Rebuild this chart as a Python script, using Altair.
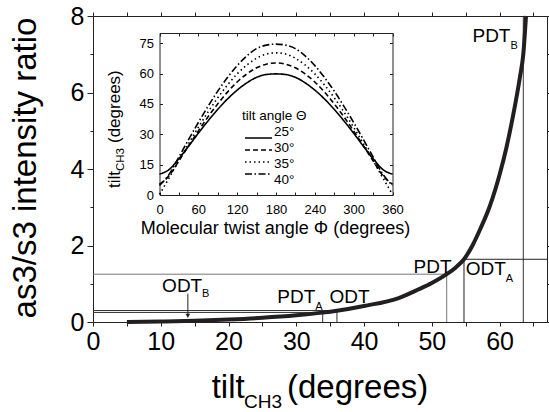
import altair as alt
import pandas as pd

FONT = "Liberation Sans"
INK = "#231f20"

# ---------------- main curve: as3/s3 ratio vs tilt_CH3 ----------------
tilt_ch3 = [5, 10, 15, 20, 25, 30, 33.9, 36, 40, 45, 48, 50, 52.2, 53.5, 54.75,
            56, 57.2, 58.5, 60, 61, 62, 63, 63.5, 63.9]
as_s_ratio = [0.0, 0.01, 0.03, 0.065, 0.11, 0.175, 0.245, 0.295, 0.42, 0.62, 0.85,
              1.02, 1.25, 1.42, 1.64, 2.0, 2.45, 3.0, 3.85, 4.55, 5.4, 6.4, 7.0, 8.0]

# ---------------- reference drop lines ----------------
seg_group = ["PDT_B", "ODT_A", "ODT_A", "PDT", "PDT", "PDT_A", "PDT_A", "ODT", "ODT"]
seg_x1 = [63.5, 54.75, 54.75, 52.2, 0, 33.9, 0, 36.0, 0]
seg_x2 = [63.5, 54.75, 67.0, 52.2, 52.2, 33.9, 33.9, 36.0, 36.0]
seg_y1 = [0, 0, 1.64, 0, 1.25, 0, 0.25, 0, 0.30]
seg_y2 = [8, 1.64, 1.64, 1.25, 1.25, 0.25, 0.25, 0.30, 0.30]

# ODT_B arrow
arrow_x = [14.0]
arrow_top = [0.74]
arrow_head = [0.16]

# annotation labels
lab_text = ["PDT", "PDT", "ODT", "PDT", "ODT", "ODT"]
lab_x = [56.0, 47.3, 55.0, 27.2, 34.9, 10.2]
lab_y = [7.31, 1.27, 1.22, 0.49, 0.49, 0.78]
sub_text = ["B", "A", "A", "B"]
sub_x = [61.6, 60.9, 32.8, 16.1]
sub_y = [7.15, 1.04, 0.31, 0.65]

# ---------------- inset: tilt_CH3 vs twist angle ----------------
phi = [0, 15, 30, 45, 60, 75, 90, 105, 120, 135, 150, 165, 180,
       195, 210, 225, 240, 255, 270, 285, 300, 315, 330, 345, 360]
tilt_25 = [10.3, 12.6, 18.0, 24.1, 30.5, 36.6, 42.3, 47.4, 51.8, 55.4, 58.1, 59.5, 59.8,
           59.5, 58.1, 55.4, 51.8, 47.4, 42.3, 36.6, 30.5, 24.1, 18.0, 12.6, 10.3]
tilt_30 = [5.3, 9.6, 16.9, 24.3, 31.6, 38.6, 45.0, 50.8, 55.8, 59.8, 62.8, 64.6, 65.2,
           64.6, 62.8, 59.8, 55.8, 50.8, 45.0, 38.6, 31.6, 24.3, 16.9, 9.6, 5.3]
tilt_35 = [0.3, 8.5, 17.1, 25.4, 33.4, 41.0, 48.0, 54.3, 59.8, 64.2, 67.5, 69.6, 70.2,
           69.6, 67.5, 64.2, 59.8, 54.3, 48.0, 41.0, 33.4, 25.4, 17.1, 8.5, 0.3]
tilt_40 = [4.7, 10.3, 18.8, 27.4, 35.8, 43.8, 51.3, 58.0, 63.9, 68.7, 72.3, 74.0, 74.5,
           74.0, 72.3, 68.7, 63.9, 58.0, 51.3, 43.8, 35.8, 27.4, 18.8, 10.3, 4.7]
theta_labels = ["25°", "30°", "35°", "40°"]
dash_styles = [[1, 0], [5, 3], [1.5, 3], [7, 2.5, 1.5, 2.5]]

# ---------------- frames ----------------
W, H = 454, 306
xs = alt.Scale(domain=[0, 67], nice=False, zero=False)
ys = alt.Scale(domain=[0, 8], nice=False, zero=False)
ixs = alt.Scale(domain=[0, 360], range=[66.5, 299.5], nice=False, zero=False)
iys = alt.Scale(domain=[0, 80], range=[179, 17], nice=False, zero=False)
dash_scale = alt.Scale(domain=theta_labels, range=dash_styles)
legend_rows = alt.Scale(domain=theta_labels, range=[116, 164], padding=0)

curve_df = pd.DataFrame({"t": tilt_ch3, "r": as_s_ratio})
seg_df = pd.DataFrame({"g": seg_group, "x1": seg_x1, "x2": seg_x2, "y1": seg_y1, "y2": seg_y2})
arrow_df = pd.DataFrame({"x": arrow_x, "y1": arrow_top, "yh": arrow_head})
lab_df = pd.DataFrame({"s": lab_text, "x": lab_x, "y": lab_y})
sub_df = pd.DataFrame({"s": sub_text, "x": sub_x, "y": sub_y})
legend_df = pd.DataFrame({"theta": theta_labels})

rows = []
for lab, ser in zip(theta_labels, [tilt_25, tilt_30, tilt_35, tilt_40]):
    for p, v in zip(phi, ser):
        rows.append({"phi": p, "tilt": v, "theta": lab})
inset_df = pd.DataFrame(rows)

common_axis = dict(grid=False, labelFlush=False, labelOverlap=False, title=None,
                   domainColor="#222", tickColor="#222", labelColor="black", labelFont=FONT)

# main bottom/left axes with the curve
curve = alt.Chart(curve_df).mark_line(
    color=INK, strokeWidth=4, strokeCap="butt", interpolate="monotone"
).encode(
    x=alt.X("t:Q", scale=xs, axis=alt.Axis(
        orient="bottom", values=list(range(0, 66, 5)),
        labelExpr="datum.value % 10 === 0 ? datum.label : ''",
        tickSize=4, labelFontSize=25, labelPadding=3, **common_axis)),
    y=alt.Y("r:Q", scale=ys, axis=alt.Axis(
        orient="left", values=list(range(0, 9)),
        labelExpr="datum.value % 2 === 0 ? datum.label : ''",
        tickSize={"condition": {"test": "datum.value % 2 === 0", "value": 6}, "value": 3},
        labelFontSize=25, labelPadding=3, **common_axis)),
)

# reference lines with mirrored top/right axes
segs = alt.Chart(seg_df).mark_rule(strokeWidth=1).encode(
    x=alt.X("x1:Q", scale=xs, axis=alt.Axis(
        orient="top", values=list(range(0, 66, 5)), labels=False, tickSize=4, **common_axis)),
    x2="x2:Q",
    y=alt.Y("y1:Q", scale=ys, axis=alt.Axis(
        orient="right", values=list(range(0, 9)), labels=False, tickSize=3, **common_axis)),
    y2="y2:Q",
    color=alt.Color("g:N", legend=None, scale=alt.Scale(
        domain=["PDT_B", "ODT_A", "PDT", "PDT_A", "ODT"],
        range=["#333333", "#222222", "#777777", "#333333", "#333333"])),
)

arrow_line = alt.Chart(arrow_df).mark_rule(color="#222", strokeWidth=1).encode(
    x=alt.X("x:Q", scale=xs, axis=None),
    y=alt.Y("y1:Q", scale=ys, axis=None),
    y2="yh:Q",
)
arrow_tip = alt.Chart(arrow_df).mark_point(
    shape="triangle-down", filled=True, color="#222", size=22, opacity=1
).encode(
    x=alt.X("x:Q", scale=xs, axis=None),
    y=alt.Y("yh:Q", scale=ys, axis=None),
)

labels = alt.Chart(lab_df).mark_text(
    font=FONT, fontSize=19, align="left", baseline="alphabetic", color="black"
).encode(
    x=alt.X("x:Q", scale=xs, axis=None),
    y=alt.Y("y:Q", scale=ys, axis=None),
    text="s:N",
)
subs = alt.Chart(sub_df).mark_text(
    font=FONT, fontSize=11, align="left", baseline="alphabetic", color="black"
).encode(
    x=alt.X("x:Q", scale=xs, axis=None),
    y=alt.Y("y:Q", scale=ys, axis=None),
    text="s:N",
)

# inset curves with bottom/left axes
inset_axis = dict(common_axis)
inset_curves = alt.Chart(inset_df).mark_line(
    color="black", strokeWidth=1.6, interpolate="monotone"
).encode(
    x=alt.X("phi:Q", scale=ixs, axis=alt.Axis(
        orient="bottom", offset=-127, values=list(range(0, 361, 60)), tickSize=0,
        labelPadding=8, labelFontSize=13, **inset_axis)),
    y=alt.Y("tilt:Q", scale=iys, axis=alt.Axis(
        orient="left", offset=-66.5, values=list(range(0, 76, 15)), tickSize=0,
        labelPadding=6, labelFontSize=13, **inset_axis)),
    strokeDash=alt.StrokeDash("theta:N", scale=dash_scale, legend=None),
)

# inset top & right frame with inward ticks
inset_frame_tr = alt.Chart(inset_df).mark_line(strokeOpacity=0).encode(
    x=alt.X("phi:Q", scale=ixs, axis=alt.Axis(
        orient="bottom", offset=-289, values=list(range(0, 361, 30)), labels=False,
        tickSize=3, **inset_axis)),
    y=alt.Y("tilt:Q", scale=iys, axis=alt.Axis(
        orient="left", offset=-299.5, values=list(range(0, 76, 15)), labels=False,
        tickSize=3, **inset_axis)),
)
# inward ticks on inset bottom & left
inset_ticks_bl = alt.Chart(inset_df).mark_line(strokeOpacity=0).encode(
    x=alt.X("phi:Q", scale=ixs, axis=alt.Axis(
        orient="top", offset=-179, values=list(range(0, 361, 30)), labels=False,
        tickSize=3, domain=False, **inset_axis)),
    y=alt.Y("tilt:Q", scale=iys, axis=alt.Axis(
        orient="right", offset=-387.5, values=list(range(0, 76, 15)), labels=False,
        tickSize=3, domain=False, **inset_axis)),
)

# inset legend (built by hand so rows stay compact)
legend_lines = alt.Chart(legend_df).mark_rule(color="black", strokeWidth=1.6).encode(
    x=alt.value(152), x2=alt.value(179),
    y=alt.Y("theta:N", scale=legend_rows, axis=None),
    strokeDash=alt.StrokeDash("theta:N", scale=dash_scale, legend=None),
)
legend_text = alt.Chart(legend_df).mark_text(
    font=FONT, fontSize=13.5, align="left", baseline="middle", color="black"
).encode(
    x=alt.value(181),
    y=alt.Y("theta:N", scale=legend_rows, axis=None),
    text="theta:N",
)


def text_piece(txt, x, y, size, angle=0, align="left"):
    return alt.Chart(pd.DataFrame({"s": [txt]})).mark_text(
        font=FONT, fontSize=size, angle=angle, align=align,
        baseline="alphabetic", color="black"
    ).encode(x=alt.value(x), y=alt.value(y), text="s:N")


titles = [
    text_piece("tilt", 118.7, 382, 33),
    text_piece("CH3", 151, 392, 19),
    text_piece("(degrees)", 194, 382, 33),
    text_piece("as3/s3 intensity ratio", -57, 152, 33, angle=270, align="center"),
    text_piece("Molecular twist angle Φ (degrees)", 182.5, 218, 18, align="center"),
    text_piece("tilt", 27, 172, 17, angle=270),
    text_piece("CH3", 31, 155, 11.5, angle=270),
    text_piece("(degrees)", 27, 127, 17, angle=270),
    text_piece("tilt angle Θ", 149, 104, 13.5),
]

chart = alt.layer(
    segs, curve, arrow_line, arrow_tip, labels, subs,
    inset_curves, inset_frame_tr, inset_ticks_bl, legend_lines, legend_text, *titles
).resolve_scale(
    x="independent", y="independent", strokeDash="independent"
).resolve_axis(
    x="independent", y="independent"
).properties(
    width=W, height=H,
    autosize=alt.AutoSizeParams(type="none"),
    padding={"left": 93, "top": 16, "right": 2, "bottom": 90},
).configure_view(stroke=None).configure(background="white")

chart.save("out.html", embed_options={"renderer": "svg", "actions": False})
